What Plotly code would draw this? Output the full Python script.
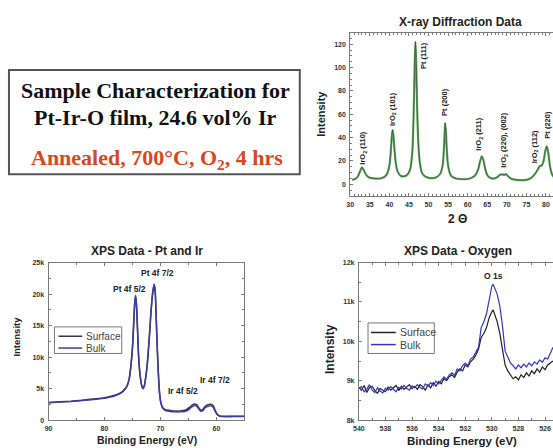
import plotly.graph_objects as go

W, H = 553, 448

# ---------------- XRD data ----------------
xrd_2theta = [30.5, 31.0, 31.5, 32.0, 32.5, 33.0, 33.5, 34.0, 34.5, 35.0, 36.0, 37.0, 38.0, 39.0, 39.6,
              40.0, 40.3, 40.6, 40.8, 41.0, 41.3, 41.6, 42.0, 42.5, 43.0, 44.0, 44.8, 45.4, 45.9, 46.2,
              46.45, 46.65, 46.85, 47.1, 47.4, 47.8, 48.3, 49.0, 50.0, 51.0, 52.0, 53.0, 53.6, 53.9, 54.1,
              54.25, 54.45, 54.7, 55.0, 55.5, 56.0, 57.0, 58.0, 59.0, 60.0, 61.0, 62.0, 62.7, 63.2, 63.6,
              64.0, 64.5, 65.0, 65.6, 66.5, 67.5, 68.2, 68.8, 69.3, 69.8, 70.3, 71.0, 72.0, 73.0, 74.0,
              75.0, 76.0, 77.0, 77.8, 78.4, 78.9, 79.4, 79.8, 80.2, 80.6, 81.0, 81.5, 82.0]
xrd_int = [3.8, 4.2, 5.0, 7.0, 11.0, 14.5, 12.0, 8.5, 6.5, 5.6, 5.0, 4.8, 5.2, 7.0, 10.5,
           16, 25, 40, 46.5, 43, 30, 19, 12, 8.5, 7, 7, 9, 14, 30, 60,
           100, 122, 105, 65, 35, 18, 10, 7, 5.5, 5.2, 6, 9, 16, 28, 42,
           52.5, 45, 28, 16, 9, 6.5, 5, 4.5, 4.3, 4.5, 5.5, 8, 13, 20, 24,
           21, 13, 8, 5.8, 4.8, 6.0, 8.0, 8.5, 8.0, 8.8, 7, 5, 4, 3.6, 3.5,
           3.8, 5, 8, 12, 15.5, 16, 20, 28, 32.5, 27, 16, 9, 6]
xrd_labels = ["IrO<sub>2</sub> (110)", "IrO<sub>2</sub> (101)", "Pt (111)", "Pt (200)",
              "IrO<sub>2</sub> (211)", "IrO<sub>2</sub> (220), (002)", "IrO<sub>2</sub> (112)", "Pt (220)"]
xrd_label_x = [33.4, 40.8, 48.9, 54.2, 62.9, 69.4, 77.2, 80.5]
xrd_label_y = [31.0, 64.0, 110.0, 70.5, 42.5, 38.5, 32.5, 51.0]

# ---------------- XPS Pt / Ir data ----------------
pt_be = [90, 88, 86, 84, 82, 80, 79, 78, 77, 76.5, 76, 75.6, 75.3, 75.0, 74.8, 74.6, 74.45, 74.3, 74.1,
         73.9, 73.6, 73.3, 73.1, 72.9, 72.6, 72.3, 72.0, 71.7, 71.4, 71.15, 70.95, 70.75, 70.55, 70.35,
         70.15, 69.9, 69.6, 69.2, 68.5, 67.5, 66.5, 65.5, 64.8, 64.3, 63.9, 63.5, 63.1, 62.8, 62.4, 62.0,
         61.5, 61.0, 60.6, 60.2, 59.8, 59.4, 59.0, 57, 55]
pt_surface = [2800, 2900, 3000, 3150, 3350, 3550, 3750, 4000, 4400, 4800, 5400, 6500, 8500, 11500, 15000,
              18500, 19700, 18500, 14500, 10000, 6800, 5300, 5000, 5400, 7000, 9500, 13000, 17000, 20000,
              21400, 20500, 16000, 11000, 7000, 4200, 2700, 2000, 1700, 1550, 1450, 1450, 1600, 2000,
              2400, 2550, 2400, 1900, 1550, 1700, 2200, 2450, 2500, 2300, 1500, 900, 650, 600, 600, 600]
pt_bulk = [2750, 2850, 2950, 3100, 3280, 3450, 3650, 3900, 4300, 4700, 5300, 6400, 8400, 11400, 15000,
           18600, 19800, 18600, 14600, 10100, 6900, 5350, 5000, 5350, 6900, 9400, 13000, 17100, 20200,
           21600, 20700, 16100, 11000, 7000, 4100, 2600, 1900, 1550, 1400, 1300, 1300, 1400, 1750,
           2150, 2300, 2150, 1700, 1400, 1500, 1950, 2200, 2250, 2050, 1350, 800, 600, 560, 560, 560]
pt_notes = ["Pt 4f 7/2", "Pt 4f 5/2", "Ir 4f 5/2", "Ir 4f 7/2"]
pt_note_x = [70.6, 75.5, 66.0, 60.3]
pt_note_y = [23400, 20850, 4550, 6300]

# ---------------- XPS O 1s data ----------------
o_be = [540.0, 539.8, 539.6, 539.4, 539.2, 539.0, 538.8, 538.6, 538.4, 538.2, 538.0, 537.8, 537.6, 537.4,
        537.2, 537.0, 536.8, 536.6, 536.4, 536.2, 536.0, 535.8, 535.6, 535.4, 535.2, 535.0, 534.8, 534.6,
        534.4, 534.2, 534.0, 533.8, 533.6, 533.4, 533.2, 533.0, 532.8, 532.6, 532.4, 532.2, 532.0, 531.8,
        531.6, 531.4, 531.2, 531.0, 530.8, 530.6, 530.4, 530.2, 530.0, 529.9, 529.8, 529.6, 529.4, 529.2,
        529.0, 528.8, 528.6, 528.4, 528.2, 528.0, 527.8, 527.6, 527.4, 527.2, 527.0, 526.8, 526.6, 526.4,
        526.2, 526.0, 525.8, 525.6, 525.4]
o_bulk = [8800, 8850, 8720, 8780, 8900, 8760, 8700, 8820, 8740, 8690, 8810, 8760, 8850, 8780,
          8720, 8830, 8790, 8880, 8800, 8760, 8870, 8820, 8900, 8830, 8790, 8920, 8860, 8950,
          8880, 8990, 8920, 9010, 9100, 9040, 9150, 9200, 9140, 9300, 9250, 9380, 9450, 9380,
          9550, 9600, 9720, 9850, 10350, 10500, 10700, 11050, 11400, 11450, 11350, 11200, 10900, 10400,
          9750, 9600, 9450, 9380, 9300, 9400, 9330, 9420, 9350, 9450, 9380, 9480, 9420, 9530,
          9470, 9580, 9550, 9700, 9850]
o_surface = [8830, 8760, 8880, 8700, 8820, 8860, 8750, 8680, 8800, 8770, 8720, 8840, 8760, 8820,
             8880, 8750, 8860, 8780, 8850, 8900, 8800, 8860, 8780, 8900, 8850, 8760, 8900, 8820,
             8950, 8860, 8980, 8920, 9050, 9000, 9100, 9150, 9080, 9220, 9300, 9250, 9400, 9350,
             9480, 9550, 9650, 9800, 10100, 10200, 10350, 10600, 10750, 10800, 10700, 10500, 10200, 9800,
             9400, 9250, 9150, 9050, 9100, 9020, 9150, 9080, 9200, 9120, 9250, 9180, 9300, 9220,
             9350, 9280, 9400, 9450, 9500]

series_names = ["Surface", "Bulk"]

# ---------------- layout helpers ----------------
def px_x(p):
    return p / W

def px_y(p):
    return 1 - p / H

FONT = "Liberation Sans, Arial, sans-serif"
SERIF = "Liberation Serif, Times New Roman, serif"
AX_COL = "#7a7a7a"
TICK_FONT = dict(family=FONT, size=7, color="#333333", weight="bold")
PT_COLORS = ["#3a3a4a", "#3c3ca8"]
O_COLORS = ["#222222", "#3535c8"]

fig = go.Figure()

# XRD
fig.add_trace(go.Scatter(x=xrd_2theta, y=xrd_int, mode="lines", line=dict(color="#62a862", width=2.2, shape="spline", smoothing=0.6),
                         showlegend=False, xaxis="x", yaxis="y", hoverinfo="skip"))
fig.add_trace(go.Scatter(x=xrd_2theta, y=xrd_int, mode="lines", line=dict(color="#2f4f2f", width=0.7, shape="spline", smoothing=0.6),
                         showlegend=False, xaxis="x", yaxis="y"))

# XPS Pt
fig.add_trace(go.Scatter(x=pt_be, y=pt_surface, mode="lines", name=series_names[0], showlegend=False,
                         line=dict(color=PT_COLORS[0], width=1.6, shape="spline", smoothing=0.5),
                         xaxis="x2", yaxis="y2"))
fig.add_trace(go.Scatter(x=pt_be, y=pt_bulk, mode="lines", name=series_names[1], showlegend=False,
                         line=dict(color=PT_COLORS[1], width=1.4, shape="spline", smoothing=0.5),
                         xaxis="x2", yaxis="y2"))

# XPS O
fig.add_trace(go.Scatter(x=o_be, y=o_surface, mode="lines", name=series_names[0], showlegend=False,
                         line=dict(color=O_COLORS[0], width=1.2),
                         xaxis="x3", yaxis="y3"))
fig.add_trace(go.Scatter(x=o_be, y=o_bulk, mode="lines", name=series_names[1], showlegend=False,
                         line=dict(color=O_COLORS[1], width=1.2),
                         xaxis="x3", yaxis="y3"))

def axis(domain, rng, mirror=True, **kw):
    d = dict(domain=domain, range=rng, showline=True, linecolor=AX_COL, linewidth=1,
             mirror=mirror, ticks="inside", ticklen=3, tickcolor=AX_COL, showgrid=False,
             zeroline=False, tickfont=TICK_FONT, ticklabelstandoff=2)
    d.update(kw)
    return d

layout = dict(
    width=W, height=H, margin=dict(l=0, r=0, t=0, b=0),
    paper_bgcolor="white", plot_bgcolor="white", showlegend=False,
    xaxis=axis([px_x(348), 1.0], [30, 81.8], mirror="ticks", anchor="y", dtick=5, tick0=30,
               minor=dict(dtick=1, ticks="inside", ticklen=2, tickcolor=AX_COL)),
    yaxis=axis([px_y(195), px_y(29)], [-10, 130], mirror=False, anchor="x", dtick=20,
               minor=dict(dtick=5, ticks="inside", ticklen=2, tickcolor=AX_COL)),
    xaxis2=axis([px_x(43), px_x(241)], [90, 55], mirror="ticks", anchor="y2", tickvals=[90, 80, 70, 60],
                minor=dict(dtick=5, ticks="inside", ticklen=2, tickcolor=AX_COL)),
    yaxis2=axis([px_y(422.7), px_y(262.7)], [0, 25000], mirror="ticks", anchor="x2",
                tickvals=[0, 5000, 10000, 15000, 20000, 25000], ticktext=["0", "5k", "10k", "15k", "20k", "25k"],
                minor=dict(dtick=2500, ticks="inside", ticklen=2, tickcolor=AX_COL)),
    xaxis3=axis([px_x(356.7), 1.0], [540, 525.4], mirror="ticks", anchor="y3", dtick=2, tick0=540,
                minor=dict(dtick=1, ticks="inside", ticklen=2, tickcolor=AX_COL)),
    yaxis3=axis([px_y(422.7), px_y(262.7)], [8000, 12000], mirror=False, anchor="x3",
                tickvals=[8000, 9000, 10000, 11000, 12000], ticktext=["8k", "9k", "10k", "11k", "12k"],
                minor=dict(dtick=500, ticks="inside", ticklen=2, tickcolor=AX_COL)),
)
fig.update_layout(**layout)

ann = []
def pa(text, x, y, size, color="#222222", family=FONT, **kw):
    d = dict(text=text, x=px_x(x), y=px_y(y), xref="paper", yref="paper", showarrow=False,
             font=dict(family=family, size=size, color=color), xanchor="center", yanchor="middle")
    d.update(kw)
    ann.append(d)

# Titles
pa("<b>X-ray Diffraction Data</b>", 459, 18, 12)
pa("<b>Intensity</b>", 319, 112, 11, textangle=-90)
pa("<b>2 Θ</b>", 456, 218, 12)
pa("<b>XPS Data - Pt and Ir</b>", 143, 251, 12)
pa("<b>Intensity</b>", 11, 338, 9.5, textangle=-90)
pa("<b>Binding Energy (eV)</b>", 143, 443, 10.5)
pa("<b>XPS Data - Oxygen</b>", 457, 251, 12)
pa("<b>Intensity</b>", 327, 350, 12, textangle=-90)
pa("<b>Binding Energy (eV)</b>", 461, 444, 11.5)

# Text box
pa("<b>Sample Characterization for</b>", 151, 88, 22, color="#111111", family=SERIF)
pa("<b>Pt-Ir-O film, 24.6 vol% Ir</b>", 151, 115, 22, color="#111111", family=SERIF)
pa("<b>Annealed, 700°C, O<sub>2</sub>, 4 hrs</b>", 153, 157, 22, color="#d8471f", family=SERIF)

# XRD peak labels
for t, xv, yv in zip(xrd_labels, xrd_label_x, xrd_label_y):
    ann.append(dict(text="<b>" + t + "</b>", x=xv, y=yv, xref="x", yref="y", showarrow=False,
                    textangle=-90, font=dict(family=FONT, size=7.5, color="#222222")))
# Pt notes
for t, xv, yv in zip(pt_notes, pt_note_x, pt_note_y):
    ann.append(dict(text="<b>" + t + "</b>", x=xv, y=yv, xref="x2", yref="y2", showarrow=False,
                    font=dict(family=FONT, size=8.5, color="#222222")))
ann.append(dict(text="<b>O 1s</b>", x=529.85, y=11650, xref="x3", yref="y3", showarrow=False,
                font=dict(family=FONT, size=8.5, color="#222222")))

shapes = []
# Legend boxes (drawn as a key: box, sample line, label)
def legend_box(x0, x1, y0, y1, rows, colors, line_x0, line_x1, text_x, size):
    shapes.append(dict(type="rect", xref="paper", yref="paper", x0=px_x(x0), x1=px_x(x1),
                       y0=px_y(y1), y1=px_y(y0), line=dict(color="#777777", width=1), fillcolor="white"))
    for name, col, ry in zip(series_names, colors, rows):
        shapes.append(dict(type="line", xref="paper", yref="paper", x0=px_x(line_x0), x1=px_x(line_x1),
                           y0=px_y(ry), y1=px_y(ry), line=dict(color=col, width=1.5)))
        ann.append(dict(text=name, x=px_x(text_x), y=px_y(ry), xref="paper", yref="paper", showarrow=False,
                        xanchor="left", yanchor="middle", font=dict(family=FONT, size=size, color="#444444")))

legend_box(49, 117, 328, 355, [337.5, 349.5], PT_COLORS, 53, 77, 79, 10)
legend_box(366, 433, 324, 355, [333.7, 346], O_COLORS, 369, 394, 396, 10.5)

# Text box frame
shapes.append(dict(type="rect", xref="paper", yref="paper", x0=px_x(3), x1=px_x(297), y0=px_y(173), y1=px_y(67),
                   line=dict(color="#555555", width=2), fillcolor="rgba(0,0,0,0)"))

fig.update_layout(annotations=ann, shapes=shapes)

fig.write_html("out.html", config={"displayModeBar": False, "staticPlot": True},
               post_script="document.body.style.margin='0';document.body.style.overflow='hidden';")
